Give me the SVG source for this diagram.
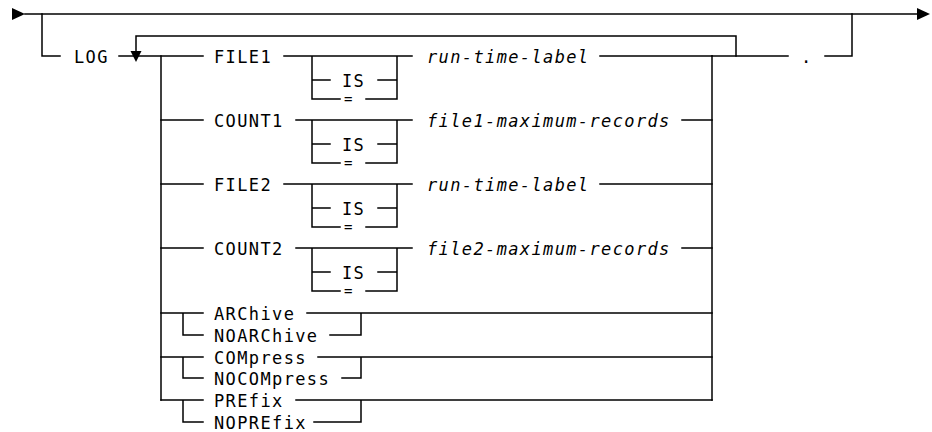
<svg xmlns="http://www.w3.org/2000/svg" width="932" height="432" viewBox="0 0 932 432">
<style>
.ln{stroke:#000;stroke-width:1.5;fill:none;stroke-linecap:square}
.ar{fill:#000;stroke:none}
.t{font-family:"DejaVu Sans Mono","Liberation Mono",monospace;font-size:17px;letter-spacing:1.37px;fill:#000}
.i{font-style:italic}
.eq{font-size:14px}
</style>
<rect width="932" height="432" fill="#fff"/>
<g id="connectors">
<path class="ln" d="M25,14H917"/>
<polygon class="ar" points="12,8 25,14 12,20"/>
<polygon class="ar" points="917,8 930,14 917,20"/>
<path class="ln" d="M42,14V56H60"/>
<path class="ln" d="M119,56H203"/>
<path class="ln" d="M136,36V52M136,36H736V56"/>
<polygon class="ar" points="130.5,51 141.5,51 136,62"/>
<path class="ln" d="M161,56V400"/>
<path class="ln" d="M712,56V400"/>
<path class="ln" d="M712,56H788M825,56H852V14"/>
<path class="ln" d="M284,56H412M312,56V99H340M312,80H330M378,80H397M366,99H397V56M600,56H712"/>
<path class="ln" d="M161,120H203M296,120H412M312,120V163H340M312,144H330M378,144H397M366,163H397V120M682,120H712"/>
<path class="ln" d="M161,184H203M284,184H412M312,184V227H340M312,208H330M378,208H397M366,227H397V184M600,184H712"/>
<path class="ln" d="M161,248H203M296,248H412M312,248V291H340M312,272H330M378,272H397M366,291H397V248M682,248H712"/>
<path class="ln" d="M161,313H203M183,313V335H203M307,313H712M330,335H361V313"/>
<path class="ln" d="M161,357H203M183,357V378H203M318,357H712M342,378H361V357"/>
<path class="ln" d="M161,400H203M183,400V422H203M296,400H712M314,422H361V400"/>
</g>
<g id="log"><text class="t" x="74" y="63">LOG</text></g>
<g id="file1">
<text class="t" x="214" y="63">FILE1</text>
<text class="t" x="342" y="87">IS</text>
<text class="t eq" x="344" y="104">=</text>
<text class="t i" x="427" y="63">run-time-label</text>
</g>
<g id="count1">
<text class="t" x="214" y="127">COUNT1</text>
<text class="t" x="342" y="151">IS</text>
<text class="t eq" x="344" y="168">=</text>
<text class="t i" x="427" y="127">file1-maximum-records</text>
</g>
<g id="file2">
<text class="t" x="214" y="191">FILE2</text>
<text class="t" x="342" y="215">IS</text>
<text class="t eq" x="344" y="232">=</text>
<text class="t i" x="427" y="191">run-time-label</text>
</g>
<g id="count2">
<text class="t" x="214" y="255">COUNT2</text>
<text class="t" x="342" y="279">IS</text>
<text class="t eq" x="344" y="296">=</text>
<text class="t i" x="427" y="255">file2-maximum-records</text>
</g>
<g id="archive">
<text class="t" x="214" y="320">ARChive</text>
<text class="t" x="214" y="342">NOARChive</text>
</g>
<g id="compress">
<text class="t" x="214" y="364">COMpress</text>
<text class="t" x="214" y="385">NOCOMpress</text>
</g>
<g id="prefix">
<text class="t" x="214" y="407">PREfix</text>
<text class="t" x="214" y="429">NOPREfix</text>
</g>
<g id="period"><text class="t" x="801" y="63">.</text></g>
</svg>
